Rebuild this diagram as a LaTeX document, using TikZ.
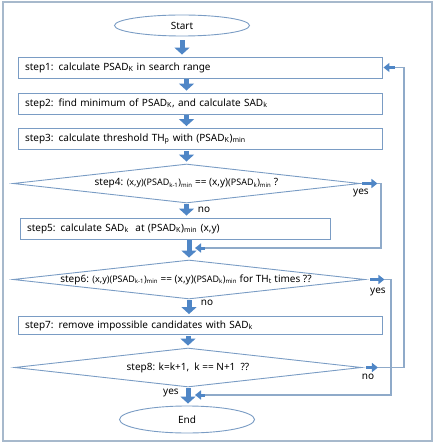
\documentclass[tikz,border=0pt]{standalone}
\usepackage{fontspec}
\setmainfont{Noto Sans}
\usetikzlibrary{shapes.geometric,arrows.meta}
\definecolor{arrowblue}{HTML}{4F86C6}
\definecolor{boxline}{HTML}{7A9CC4}
\definecolor{loopcol}{HTML}{8FAAC9}
\definecolor{framecol}{HTML}{A7B9CC}
\newcommand{\sbs}[1]{\textsubscript{#1}}
\begin{document}
\begin{tikzpicture}[x=1pt, y=-1pt, font=\fontsize{10}{12}\selectfont,
    stepbox/.style={draw=boxline, line width=0.9pt, minimum height=21pt, inner xsep=7pt, align=left},
    terminal/.style={draw=boxline, line width=0.9pt, ellipse, minimum width=135pt, inner sep=0pt},
    decision/.style={draw=boxline, line width=0.9pt, diamond, inner sep=0pt},
    blockarrow/.style={draw=arrowblue, line width=5pt, -{Triangle[width=15pt,length=7pt]}, shorten <=1pt, shorten >=2pt},
    smallarrow/.style={draw=arrowblue, line width=3pt, -{Triangle[width=9pt,length=6pt]}},
    loopline/.style={draw=loopcol, line width=1.1pt}]
  \useasboundingbox (0,0) rectangle (437,446);
  \draw[framecol, line width=1.2pt] (3,2) rectangle (432,441);

  % start / end
  \node[terminal, minimum height=21pt] (start) at (182,25.5) {Start};
  \node[terminal, minimum height=27pt] (end) at (187,419.5) {End};

  % process steps
  \node[stepbox, text width=350pt] (s1) at (200,67.5) {step1: calculate PSAD\sbs{K} in search range};
  \node[stepbox, text width=350pt] (s2) at (200,103.5) {step2: find minimum of PSAD\sbs{K}, and calculate SAD\sbs{k}};
  \node[stepbox, text width=350pt] (s3) at (200,139) {step3: calculate threshold TH\sbs{p} with (PSAD\sbs{K})\sbs{min}};
  \node[stepbox, text width=296pt] (s5) at (175,228.5) {step5: calculate SAD\sbs{k}\ \ at (PSAD\sbs{K})\sbs{min} (x,y)};
  \node[stepbox, text width=350pt, minimum height=18pt] (s7) at (200,325.5) {step7: remove impossible candidates with SAD\sbs{k}};

  % decisions
  \node[decision, minimum width=347pt, minimum height=39pt] (d4) at (186.5,183.5) {};
  \node (t4) at (d4) {step4: {\small (x,y)(PSAD\sbs{k-1})\sbs{min}} == (x,y){\small (PSAD\sbs{k})\sbs{min}} ?};
  \node[decision, minimum width=352pt, minimum height=39pt] (d6) at (189,279.5) {};
  \node (t6) at ([xshift=-3pt]d6.center) {step6: {\small (x,y)(PSAD\sbs{k-1})\sbs{min}} == (x,y){\small (PSAD\sbs{k})\sbs{min}} for TH\sbs{t} times ??};
  \node[decision, minimum width=347pt, minimum height=39pt] (d8) at (188,367.5) {};
  \node (t8) at (d8) {step8: k=k+1,\ \ k == N+1\ \ ??};

  % main flow
  \draw[blockarrow] ([yshift=-3pt]start.south) -- (start.south |- s1.north);
  \draw[blockarrow] (d4.north |- s1.south) -- (d4.north |- s2.north);
  \draw[blockarrow] (d4.north |- s2.south) -- (d4.north |- s3.north);
  \draw[blockarrow] (d4.north |- s3.south) -- (d4.north);
  \draw[blockarrow] (d4.south) -- (d4.south |- s5.north);
  \draw[blockarrow] (d6.north |- s5.south) -- (d6.north);
  \draw[blockarrow] (d6.south) -- (d6.south |- s7.north);
  \draw[blockarrow] (d8.north |- s7.south) -- (d8.north);
  \draw[blockarrow] (d8.south) -- (d8.south |- end.north);

  % loop back points
  \coordinate (c4) at (381,248);
  \coordinate (m5) at (205,248);
  \coordinate (c6) at (391,395);
  \coordinate (m8) at (205,395);
  \coordinate (c8) at (404,67.5);
  \coordinate (m1) at (395,67.5);

  % step4 yes
  \draw[smallarrow] ([xshift=2pt]d4.east) -- ++(15,0) coordinate (y4);
  \draw[loopline] (y4) -| (c4) -- (m5);
  \draw[smallarrow] (m5) -- ++(-10,0);
  % step6 yes
  \draw[smallarrow] ([xshift=5pt]d6.east) -- ++(14,0) coordinate (y6);
  \draw[loopline] (y6) -| (c6) -- (m8);
  \draw[smallarrow] (m8) -- ++(-10,0);
  % step8 no
  \draw[smallarrow] ([xshift=4pt]d8.east) -- ++(12,0) coordinate (n8);
  \draw[loopline] (n8) -| (c8) -- (m1);
  \draw[smallarrow, shorten >=1pt] (m1) -- (s1.east);

  % labels
  \node (yes4) at (361,193) {yes};
  \node (no4) at (204,210) {no};
  \node (yes6) at (378,292) {yes};
  \node (no6) at (207,303) {no};
  \node (no8) at (368,377) {no};
  \node (yes8) at (171,393) {yes};
\end{tikzpicture}
\end{document}
